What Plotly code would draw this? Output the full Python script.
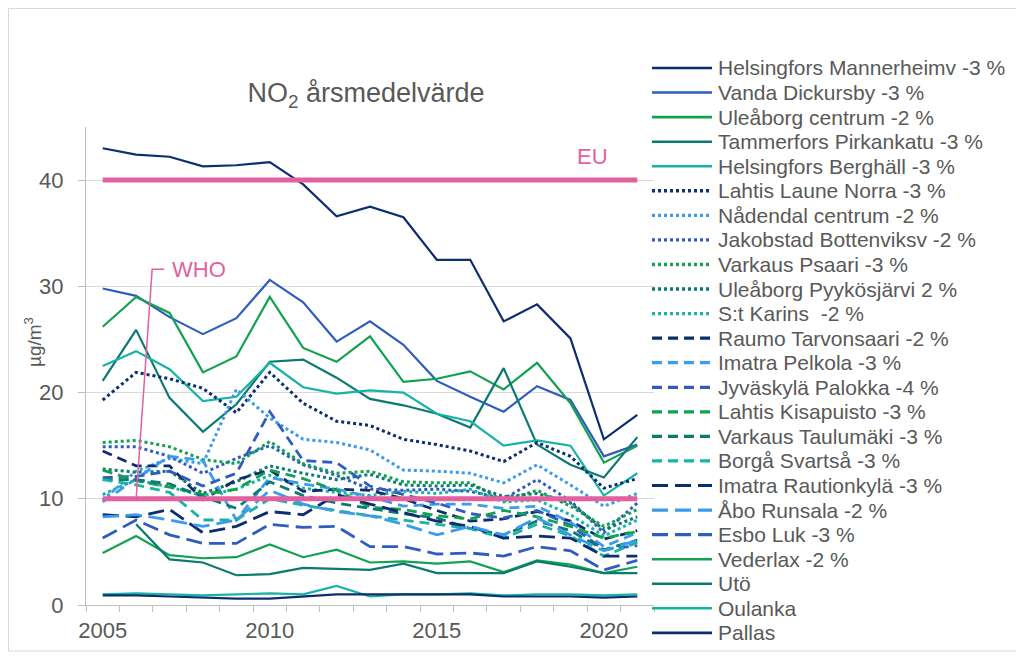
import plotly.graph_objects as go

years = list(range(2005, 2022))

# NO2 annual means per station (µg/m3)
mannerheimv = [43.0, 42.4, 42.2, 41.3, 41.4, 41.7, 39.6, 36.6, 37.5, 36.5, 32.5, 32.5, 26.7, 28.3, 25.1, 15.6, 17.9]
dickursby = [29.8, 29.1, 27.1, 25.5, 27.0, 30.6, 28.5, 24.8, 26.7, 24.5, 21.1, 19.6, 18.2, 20.6, 19.3, 14.0, 15.1]
uleaborg_centrum = [26.2, 29.0, 27.5, 21.9, 23.4, 29.0, 24.2, 22.9, 25.3, 21.0, 21.3, 22.0, 20.3, 22.8, 19.0, 13.4, 15.0]
pirkankatu = [21.1, 25.9, 19.5, 16.3, 18.9, 22.9, 23.1, 21.4, 19.4, 18.8, 18.0, 16.7, 22.3, 15.1, 13.2, 12.0, 15.8]
berghall = [22.5, 23.9, 22.2, 19.2, 19.6, 22.8, 20.5, 19.9, 20.2, 20.0, 18.0, 17.3, 15.0, 15.5, 15.0, 10.3, 12.4]
laune_norra = [19.3, 21.9, 21.3, 20.4, 18.1, 21.9, 19.0, 17.3, 16.9, 15.6, 15.1, 14.5, 13.5, 15.3, 14.0, 11.0, 11.9]
nadendal = [9.9, 12.6, 13.8, 13.3, 20.3, 17.6, 15.6, 15.3, 14.6, 12.7, 12.6, 12.4, 11.5, 13.2, 11.3, 9.3, 10.5]
jakobstad = [14.9, 14.9, 14.0, 12.4, 13.8, 15.0, 13.2, 12.2, 10.9, 10.8, 10.9, 10.7, 10.0, 11.8, 9.8, 6.8, 9.6]
psaari = [15.3, 15.5, 14.9, 13.7, 13.3, 15.4, 13.3, 12.4, 12.6, 11.6, 11.5, 11.5, 9.8, 10.8, 9.3, 7.4, 9.0]
pyykosjarvi = [12.8, 12.5, 12.6, 10.5, 11.6, 13.1, 12.4, 11.8, 12.3, 11.3, 11.2, 11.3, 10.2, 10.5, 9.6, 7.1, 8.3]
st_karins = [10.4, 11.8, 11.1, 10.3, 10.9, 12.2, 11.0, 10.6, 10.3, 10.7, 10.5, 10.9, 9.7, 9.9, 8.5, 6.5, 8.0]
tarvonsaari = [14.5, 13.1, 13.1, 9.9, 11.8, 12.7, 10.7, 10.9, 10.8, 10.0, 8.9, 7.9, 8.1, 8.8, 7.9, 6.2, 7.0]
pelkola = [9.7, 11.9, 14.0, 13.6, 8.0, 12.0, 11.4, 10.9, 10.2, 9.3, 9.5, 9.5, 9.1, 9.3, 7.8, 5.5, 6.8]
palokka = [12.0, 12.1, 12.6, 11.2, 12.4, 18.2, 13.6, 13.4, 11.2, 10.4, 9.6, 8.6, 8.2, 8.9, 7.5, 5.2, 5.6]
kisapuisto = [12.7, 11.7, 11.1, 10.4, 10.9, 12.7, 11.9, 10.8, 9.2, 9.0, 8.4, 8.1, 8.9, 8.3, 7.4, 6.3, 6.9]
taulumaki = [11.8, 11.8, 11.4, 10.2, 9.1, 11.6, 10.3, 9.6, 9.1, 8.6, 8.2, 7.2, 6.6, 7.9, 7.0, 5.2, 6.1]
svartsa = [11.8, 11.3, 10.6, 8.0, 8.0, 10.0, 9.4, 8.9, 8.4, 8.0, 7.6, 7.2, 6.3, 7.6, 6.5, 4.6, 5.9]
rautionkyla = [8.5, 8.3, 9.0, 6.8, 7.4, 8.8, 8.5, 10.4, 9.5, 8.7, 7.9, 7.4, 6.3, 6.5, 6.3, 4.6, 4.6]
runsala = [8.3, 8.5, 8.0, 7.4, 8.0, 10.8, 9.5, 8.8, 8.4, 7.6, 6.6, 7.4, 6.6, 8.2, 6.6, 5.1, 6.1]
esbo_luk = [6.3, 8.0, 6.6, 5.8, 5.8, 7.6, 7.3, 7.4, 5.5, 5.5, 4.8, 4.9, 4.6, 5.5, 5.1, 3.3, 4.2]
vederlax = [4.9, 6.5, 4.7, 4.4, 4.5, 5.7, 4.5, 5.2, 4.0, 4.1, 3.9, 4.1, 3.1, 4.2, 3.8, 3.0, 3.6]
uto = [None, 7.6, 4.3, 4.0, 2.8, 2.9, 3.5, 3.4, 3.3, 3.9, 3.0, 3.0, 3.0, 4.1, 3.6, 3.0, 3.0]
oulanka = [1.0, 1.1, 1.0, 0.9, 1.0, 1.1, 1.0, 1.8, 0.8, 1.0, 1.0, 1.1, 0.9, 1.0, 1.0, 0.9, 1.0]
pallas = [0.9, 0.9, 0.8, 0.7, 0.6, 0.6, 0.8, 1.0, 1.0, 1.0, 1.0, 1.0, 0.8, 0.8, 0.8, 0.7, 0.8]

eu_limit = 40
who_limit = 10

x_ticks = [2005, 2010, 2015, 2020]
y_ticks = [0, 10, 20, 30, 40]

NAVY = "#0C2E6E"
BLUE = "#2E5DBF"
LIGHT = "#3A9CEB"
GREEN = "#12A24F"
TEAL = "#0B7A70"
CYAN = "#17B3A6"
PINK = "#E2609F"
GREY = "#595959"
FONT = "Liberation Sans, Arial, sans-serif"

series = [
    ("Helsingfors Mannerheimv -3 %", mannerheimv, NAVY, "solid"),
    ("Vanda Dickursby -3 %", dickursby, BLUE, "solid"),
    ("Uleåborg centrum -2 %", uleaborg_centrum, GREEN, "solid"),
    ("Tammerfors Pirkankatu -3 %", pirkankatu, TEAL, "solid"),
    ("Helsingfors Berghäll -3 %", berghall, CYAN, "solid"),
    ("Lahtis Laune Norra -3 %", laune_norra, NAVY, "dot"),
    ("Nådendal centrum -2 %", nadendal, LIGHT, "dot"),
    ("Jakobstad Bottenviksv -2 %", jakobstad, BLUE, "dot"),
    ("Varkaus Psaari -3 %", psaari, GREEN, "dot"),
    ("Uleåborg Pyykösjärvi 2 %", pyykosjarvi, TEAL, "dot"),
    ("S:t Karins  -2 %", st_karins, CYAN, "dot"),
    ("Raumo Tarvonsaari -2 %", tarvonsaari, NAVY, "dash"),
    ("Imatra Pelkola -3 %", pelkola, LIGHT, "dash"),
    ("Jyväskylä Palokka -4 %", palokka, BLUE, "dash"),
    ("Lahtis Kisapuisto -3 %", kisapuisto, GREEN, "dash"),
    ("Varkaus Taulumäki -3 %", taulumaki, TEAL, "dash"),
    ("Borgå Svartså -3 %", svartsa, CYAN, "dash"),
    ("Imatra Rautionkylä -3 %", rautionkyla, NAVY, "longdash"),
    ("Åbo Runsala -2 %", runsala, LIGHT, "longdash"),
    ("Esbo Luk -3 %", esbo_luk, BLUE, "longdash"),
    ("Vederlax -2 %", vederlax, GREEN, "solid"),
    ("Utö", uto, TEAL, "solid"),
    ("Oulanka", oulanka, CYAN, "solid"),
    ("Pallas", pallas, NAVY, "solid"),
]

DASH = {"solid": "solid", "dot": "3px,3px", "dash": "10px,6px", "longdash": "16px,7px"}
WIDTH = {"solid": 2.2, "dot": 3, "dash": 2.8, "longdash": 2.8}

# the page body has an 8px margin, so the figure starts at (8, 8)
OFF = 8
FIG_W, FIG_H = 1024 - OFF, 661 - OFF
# plot area in page pixels: x 86..654, y 127..605
PX_L, PX_R, PX_T, PX_B = 86, 654, 127, 605
L, T = PX_L - OFF, PX_T - OFF
R, B = FIG_W - (PX_R - OFF), FIG_H - (PX_B - OFF)
PW = PX_R - PX_L
PH = PX_B - PX_T


def px_x(px):
    return (px - PX_L) / PW


def px_y(py):
    return (PX_B - py) / PH


fig = go.Figure()

for name, vals, color, style in series:
    fig.add_trace(go.Scatter(
        x=years, y=vals, mode="lines", name=name, showlegend=False,
        line=dict(color=color, width=WIDTH[style], dash=DASH[style]),
    ))

# EU and WHO limit lines on top
for lim in (eu_limit, who_limit):
    fig.add_trace(go.Scatter(
        x=years, y=[lim] * len(years), mode="lines", showlegend=False,
        line=dict(color=PINK, width=5), hoverinfo="skip",
    ))

shapes = []
annotations = []

# hand-drawn legend (Excel style, tight rows)
for i, (name, vals, color, style) in enumerate(series):
    yy = px_y(68 + i * 24.56)
    shapes.append(dict(type="line", xref="paper", yref="paper",
                       x0=px_x(652), x1=px_x(712), y0=yy, y1=yy,
                       line=dict(color=color, width=WIDTH[style] + 0.4, dash=DASH[style])))
    annotations.append(dict(xref="paper", yref="paper", x=px_x(716), y=yy,
                            text=name, showarrow=False, xanchor="left", yanchor="middle",
                            font=dict(size=21, color=GREY, family=FONT)))

# WHO callout
shapes.append(dict(type="path", xref="x", yref="y",
                   path="M 2006.0 10 L 2006.48 31.6 L 2006.84 31.6",
                   line=dict(color=PINK, width=1.5)))
annotations.append(dict(x=2007.0, y=31.6, xref="x", yref="y", text="WHO", showarrow=False,
                        xanchor="left", yanchor="middle",
                        font=dict(size=22, color=PINK, family=FONT)))
annotations.append(dict(x=2019.65, y=42.2, xref="x", yref="y", text="EU", showarrow=False,
                        xanchor="center", yanchor="middle",
                        font=dict(size=22, color=PINK, family=FONT)))

# y axis title
annotations.append(dict(xref="paper", yref="paper", x=px_x(33), y=px_y(342),
                        text="µg/m<sup>3</sup>", showarrow=False, textangle=-90,
                        xanchor="center", yanchor="middle",
                        font=dict(size=19, color=GREY, family=FONT)))

# outer chart frame
shapes.append(dict(type="rect", xref="paper", yref="paper", layer="below",
                   x0=px_x(8.5), x1=px_x(1021), y0=px_y(651), y1=px_y(8.5),
                   line=dict(color="#D9D9D9", width=1)))

fig.update_layout(
    width=FIG_W, height=FIG_H,
    margin=dict(l=L, r=R, t=T, b=B),
    paper_bgcolor="white", plot_bgcolor="white",
    font=dict(family=FONT, color=GREY),
    title=dict(text="NO<sub>2</sub> årsmedelvärde", x=(366 - OFF) / FIG_W, xanchor="center",
               y=1 - (93 - OFF) / FIG_H, yanchor="middle", xref="container", yref="container",
               font=dict(size=27, color=GREY, family=FONT)),
    showlegend=False,
    shapes=shapes,
    annotations=annotations,
    xaxis=dict(
        range=[2004.5, 2021.5], tickvals=x_ticks, ticks="", showgrid=False,
        showline=True, linecolor="#BFBFBF", linewidth=1, zeroline=False,
        tickfont=dict(size=22, color=GREY), ticklabelstandoff=6,
        minor=dict(ticks="outside", ticklen=6, tickcolor="#BFBFBF",
                   tickmode="linear", tick0=2004.5, dtick=1, showgrid=False),
    ),
    yaxis=dict(
        range=[0, 45], tickvals=y_ticks, ticks="outside", ticklen=7,
        tickcolor="#BFBFBF", showgrid=True, gridcolor="#D9D9D9", gridwidth=1,
        showline=True, linecolor="#BFBFBF", linewidth=1, zeroline=False,
        tickfont=dict(size=22, color=GREY), ticklabelstandoff=10,
    ),
)

fig.write_html("out.html")
